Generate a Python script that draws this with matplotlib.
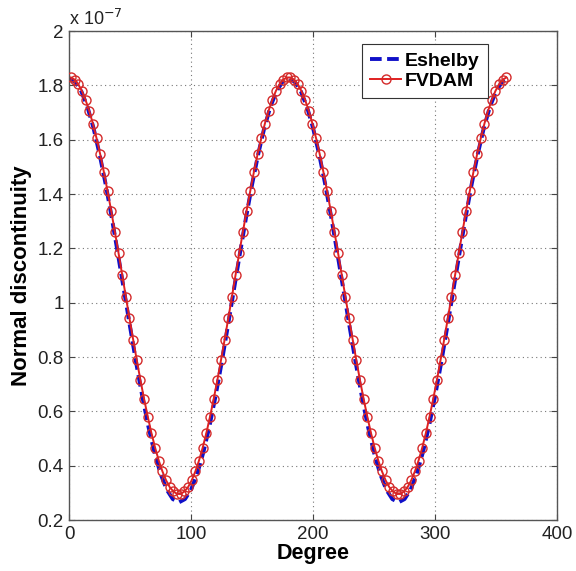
import matplotlib
matplotlib.use("Agg")
import matplotlib.pyplot as plt
from matplotlib.ticker import FuncFormatter

plt.rcParams['font.family'] = ['Liberation Sans', 'DejaVu Sans']

# Eshelby solution (units of 1e-7), sampled every 5 degrees
eshelby_deg = list(range(0, 361, 5))
eshelby_val = [
    1.825, 1.813, 1.778, 1.721, 1.643, 1.546, 1.435, 1.312, 1.180, 1.045,
    0.910, 0.778, 0.655, 0.544, 0.448, 0.370, 0.312, 0.277, 0.265,
    0.277, 0.312, 0.370, 0.448, 0.544, 0.655, 0.778, 0.910, 1.045, 1.180,
    1.312, 1.435, 1.546, 1.643, 1.721, 1.778, 1.813, 1.825,
    1.813, 1.778, 1.721, 1.643, 1.546, 1.435, 1.312, 1.180, 1.045,
    0.910, 0.778, 0.655, 0.544, 0.448, 0.370, 0.312, 0.277, 0.265,
    0.277, 0.312, 0.370, 0.448, 0.544, 0.655, 0.778, 0.910, 1.045, 1.180,
    1.312, 1.435, 1.546, 1.643, 1.721, 1.778, 1.813, 1.825,
]

# FVDAM solution (units of 1e-7), at subvolume centres every 3 degrees
fvdam_deg = [1.5 + 3 * k for k in range(120)]
fvdam_val = [
    1.829, 1.821, 1.804, 1.779, 1.746, 1.706, 1.659, 1.605, 1.546, 1.481,
    1.411, 1.338, 1.261, 1.183, 1.103, 1.022, 0.942, 0.864, 0.788, 0.714,
    0.645, 0.580, 0.520, 0.466, 0.419, 0.379, 0.346, 0.321, 0.305, 0.296,
    0.296, 0.305, 0.321, 0.346, 0.379, 0.419, 0.466, 0.520, 0.580, 0.645,
    0.714, 0.788, 0.864, 0.942, 1.022, 1.103, 1.183, 1.261, 1.338, 1.411,
    1.481, 1.546, 1.605, 1.659, 1.706, 1.746, 1.779, 1.804, 1.821, 1.829,
    1.829, 1.821, 1.804, 1.779, 1.746, 1.706, 1.659, 1.605, 1.546, 1.481,
    1.411, 1.338, 1.261, 1.183, 1.103, 1.022, 0.942, 0.864, 0.788, 0.714,
    0.645, 0.580, 0.520, 0.466, 0.419, 0.379, 0.346, 0.321, 0.305, 0.296,
    0.296, 0.305, 0.321, 0.346, 0.379, 0.419, 0.466, 0.520, 0.580, 0.645,
    0.714, 0.788, 0.864, 0.942, 1.022, 1.103, 1.183, 1.261, 1.338, 1.411,
    1.481, 1.546, 1.605, 1.659, 1.706, 1.746, 1.779, 1.804, 1.821, 1.829,
]

x_ticks = [0, 100, 200, 300, 400]
y_ticks = [0.2, 0.4, 0.6, 0.8, 1.0, 1.2, 1.4, 1.6, 1.8, 2.0]

fig = plt.figure(figsize=(5.76, 5.71), dpi=100)
ax = fig.add_axes([0.12, 0.0893, 0.847, 0.8564])

ax.plot(eshelby_deg, eshelby_val, linestyle='--', color='#1010c8', lw=2.8,
        dashes=(3, 1.4), label='Eshelby', zorder=2)
ax.plot(fvdam_deg, fvdam_val, '-o', color='#e02020', lw=1.4,
        markersize=6.5, markerfacecolor='none', markeredgecolor='#d42a2a',
        markeredgewidth=1.0, label='FVDAM', zorder=3)

ax.set_xlim(0, 400)
ax.set_ylim(0.2, 2.0)
ax.set_xticks(x_ticks)
ax.set_yticks(y_ticks)
ax.yaxis.set_major_formatter(FuncFormatter(lambda v, p: '%g' % round(v, 2)))
ax.tick_params(direction='in', labelsize=13.5, length=4, color='#444444',
               top=True, right=True, labelcolor='#222222', pad=4)
ax.grid(True, linestyle=(0, (1, 3)), color='#777777', lw=0.8)
for s in ax.spines.values():
    s.set_color('#555555')
    s.set_linewidth(1.0)

ax.set_xlabel('Degree', fontsize=15.5, fontweight='bold', labelpad=0)
ax.set_ylabel('Normal discontinuity', fontsize=16, fontweight='bold', labelpad=4)
ax.text(0.0, 1.004, r'x 10$^{-7}$', transform=ax.transAxes, fontsize=13,
        ha='left', va='bottom', color='#222222')

leg = ax.legend(loc='upper right', bbox_to_anchor=(0.858, 0.973),
                prop={'weight': 'bold', 'size': 14}, handlelength=1.6,
                handletextpad=0.2, borderpad=0.4, labelspacing=0.15,
                borderaxespad=0, fancybox=False, framealpha=1,
                edgecolor='#333333')
leg.get_frame().set_linewidth(0.8)

fig.savefig('out.png', dpi=100)
